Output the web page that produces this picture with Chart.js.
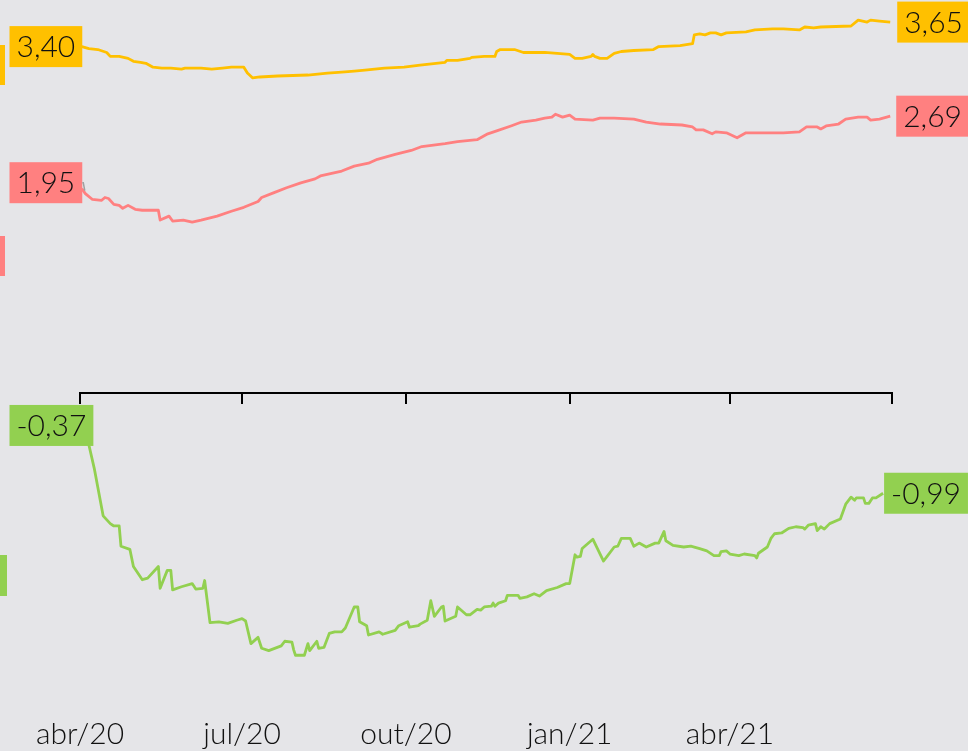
<!DOCTYPE html>
<html>
<head>
<meta charset="utf-8">
<script src="https://cdn.jsdelivr.net/npm/chart.js@4.4.1/dist/chart.umd.min.js"></script>
<style>
  html, body { margin: 0; padding: 0; background: #e5e5e8; }
  #wrap { width: 968px; height: 751px; position: relative; }
</style>
</head>
<body>
<div id="wrap"><canvas id="c"></canvas></div>
<script>
// x values are days since 1 Apr 2020
const tickDays = [0, 91, 183, 275, 365, 456];
const tickLabels = ['abr/20', 'jul/20', 'out/20', 'jan/21', 'abr/21', ''];

const yellowDays = [1,5,10,15,17,22,27,30,34,37,41,46,51,57,59,68,74,80,85,92,94,97,101,111,128,139,147,154,160,171,182,191,205,206,212,219,220,227,233,234,236,244,249,261,268,275,278,282,287,288,289,292,296,300,304,311,322,325,337,344,345,348,351,354,357,360,363,374,379,389,395,404,407,412,416,433,437,442,444,449,455];
const yellowValues = [3.40,3.38,3.37,3.34,3.30,3.30,3.28,3.25,3.24,3.23,3.19,3.18,3.18,3.17,3.18,3.18,3.17,3.18,3.19,3.19,3.13,3.08,3.09,3.10,3.11,3.13,3.14,3.15,3.16,3.18,3.19,3.21,3.24,3.26,3.26,3.28,3.29,3.30,3.30,3.35,3.37,3.37,3.34,3.34,3.33,3.32,3.28,3.28,3.30,3.32,3.30,3.28,3.28,3.33,3.35,3.36,3.37,3.40,3.41,3.43,3.52,3.53,3.52,3.54,3.54,3.52,3.54,3.55,3.57,3.58,3.58,3.57,3.60,3.59,3.60,3.61,3.67,3.65,3.67,3.66,3.65];

const redDays = [1,3,7,12,14,16,19,22,24,27,31,35,43,44,45,50,52,58,63,68,77,85,92,100,102,109,116,124,132,135,147,154,162,167,177,186,192,205,212,223,229,234,242,248,256,261,265,267,271,275,278,288,292,300,311,318,326,338,344,346,350,355,357,363,369,374,384,395,404,408,414,416,419,426,430,437,442,444,449,455];
const redValues = [1.95,1.90,1.84,1.83,1.86,1.85,1.79,1.78,1.75,1.78,1.74,1.73,1.73,1.73,1.63,1.67,1.62,1.63,1.61,1.63,1.67,1.72,1.76,1.82,1.86,1.91,1.96,2.01,2.05,2.08,2.13,2.18,2.21,2.25,2.30,2.34,2.38,2.41,2.43,2.45,2.51,2.54,2.59,2.63,2.65,2.67,2.68,2.71,2.68,2.70,2.66,2.65,2.67,2.67,2.66,2.63,2.61,2.60,2.58,2.55,2.55,2.51,2.53,2.52,2.47,2.52,2.52,2.52,2.53,2.58,2.58,2.56,2.59,2.61,2.66,2.68,2.68,2.65,2.66,2.69];

const greenDays = [5,8,13,17,19,22,23,28,30,35,38,44,45,49,51,52,57,63,65,69,70,73,78,83,88,91,93,96,100,102,106,113,115,119,120,121,126,128,129,133,134,137,140,143,147,149,154,156,157,161,162,168,170,177,179,184,185,190,191,195,197,199,203,204,205,211,212,217,219,223,225,227,231,232,233,235,239,240,246,247,251,255,258,262,268,273,275,278,279,281,282,288,294,296,300,302,304,309,311,314,318,323,325,328,329,333,339,343,348,352,356,359,360,363,365,370,373,379,380,381,386,388,390,394,398,402,406,407,409,413,414,416,418,421,427,430,433,435,436,440,441,443,445,447,451];
const greenValues = [-0.37,-0.67,-1.28,-1.38,-1.41,-1.41,-1.67,-1.71,-1.93,-2.10,-2.08,-1.93,-2.21,-1.98,-1.98,-2.23,-2.19,-2.15,-2.22,-2.21,-2.11,-2.65,-2.64,-2.66,-2.62,-2.60,-2.63,-2.92,-2.84,-2.98,-3.01,-2.95,-2.89,-2.90,-3.00,-3.07,-3.07,-2.92,-3.01,-2.89,-2.98,-2.97,-2.79,-2.77,-2.77,-2.72,-2.45,-2.45,-2.64,-2.69,-2.81,-2.77,-2.80,-2.75,-2.69,-2.64,-2.71,-2.69,-2.67,-2.62,-2.37,-2.57,-2.45,-2.44,-2.63,-2.57,-2.45,-2.55,-2.55,-2.48,-2.49,-2.45,-2.44,-2.40,-2.44,-2.40,-2.37,-2.30,-2.30,-2.34,-2.32,-2.28,-2.31,-2.24,-2.20,-2.15,-2.15,-1.78,-1.81,-1.80,-1.70,-1.58,-1.86,-1.80,-1.68,-1.67,-1.57,-1.57,-1.67,-1.63,-1.68,-1.63,-1.63,-1.48,-1.60,-1.66,-1.68,-1.67,-1.70,-1.73,-1.79,-1.79,-1.74,-1.73,-1.77,-1.79,-1.77,-1.79,-1.82,-1.76,-1.68,-1.57,-1.51,-1.50,-1.44,-1.42,-1.43,-1.45,-1.40,-1.38,-1.47,-1.42,-1.45,-1.38,-1.32,-1.13,-1.04,-1.08,-1.05,-1.05,-1.12,-1.12,-1.05,-1.05,-0.99];

const YELLOW = '#FFC000', RED = '#FF8080', GREEN = '#92D050';
const FONT = 'Lato, "Open Sans", sans-serif';

function pts(days, vals) { return days.map((d, i) => ({ x: d, y: vals[i] })); }
function fmt(v) { return v.toFixed(2).replace('.', ','); }

const labelPlugin = {
  id: 'valueLabels',
  afterDraw(chart) {
    const ctx = chart.ctx;
    ctx.save();
    // small colored marks at the left edge
    [[YELLOW, 45, 40, 5], [RED, 236, 40, 5], [GREEN, 555, 41, 7]].forEach(([c, y, h, w]) => {
      ctx.fillStyle = c; ctx.fillRect(0, y, w, h);
    });
    ctx.font = '300 30px ' + FONT;
    ctx.textBaseline = 'middle';
    const H = 41, PAD = 7;
    function box(text, left, cy, color) {
      const w = ctx.measureText(text).width + PAD * 2;
      ctx.fillStyle = color;
      ctx.fillRect(left, cy - H / 2, w, H);
      ctx.fillStyle = '#111';
      ctx.textAlign = 'left';
      ctx.fillText(text, left + PAD, cy + 1);
      return w;
    }
    chart.data.datasets.forEach((ds, i) => {
      const meta = chart.getDatasetMeta(i);
      const first = meta.data[0], last = meta.data[meta.data.length - 1];
      const v0 = ds.data[0].y, v1 = ds.data[ds.data.length - 1].y;
      const st = ds.labelStyle;
      // left label
      const cyL = first.y + st.leftDy;
      const w = box(fmt(v0), 9.5, cyL, ds.borderColor);
      if (st.leader) {
        ctx.strokeStyle = '#a0a0a0';
        ctx.lineWidth = 1.5;
        ctx.beginPath();
        ctx.moveTo(9.5 + w, cyL);
        ctx.lineTo(first.x + 1.5, cyL);
        ctx.lineTo(first.x + 3, first.y + 2);
        ctx.stroke();
      }
      // right label
      box(fmt(v1), last.x + st.rightGap, last.y, ds.borderColor);
    });
    ctx.restore();
  }
};

new Chart(document.getElementById('c'), {
  type: 'line',
  data: {
    datasets: [
      { data: pts(yellowDays, yellowValues), borderColor: YELLOW, yAxisID: 'y',
        labelStyle: { leftDy: 0, rightGap: 7, leader: false } },
      { data: pts(redDays, redValues), borderColor: RED, yAxisID: 'y',
        labelStyle: { leftDy: -6, rightGap: 6, leader: true } },
      { data: pts(greenDays, greenValues), borderColor: GREEN, yAxisID: 'yg',
        labelStyle: { leftDy: -19.5, rightGap: 1, leader: false } }
    ]
  },
  options: {
    responsive: true,
    maintainAspectRatio: false,
    animation: false,
    layout: { padding: { left: 80, right: 76, top: 0, bottom: 0 } },
    elements: { point: { radius: 0 }, line: { borderWidth: 2.8, tension: 0, borderJoinStyle: 'round' } },
    plugins: { legend: { display: false }, tooltip: { enabled: false } },
    scales: {
      x: {
        type: 'linear', min: 0, max: 456, position: 'bottom',
        grid: { display: false }, border: { display: false },
        afterBuildTicks: s => { s.ticks = tickDays.map(v => ({ value: v })); },
        afterFit: s => { s.height = 50; },
        ticks: {
          autoSkip: false, maxRotation: 0, padding: 7, color: '#111',
          font: { family: FONT, size: 30, weight: 300 },
          callback: v => tickLabels[tickDays.indexOf(v)] ?? ''
        }
      },
      x2: {
        type: 'linear', min: 0, max: 456, axis: 'x',
        position: { y: -0.13 },
        afterBuildTicks: s => { s.ticks = tickDays.map(v => ({ value: v })); },
        grid: { display: true, drawOnChartArea: false, drawTicks: true, tickLength: 10, color: '#000', lineWidth: 2 },
        border: { display: true, color: '#000', width: 2 },
        ticks: { display: false }
      },
      y: { display: false, min: -3.2776, max: 3.8755 },
      yg: { display: false, min: -3.657, max: 5.342 }
    }
  },
  plugins: [labelPlugin]
});
</script>
</body>
</html>
